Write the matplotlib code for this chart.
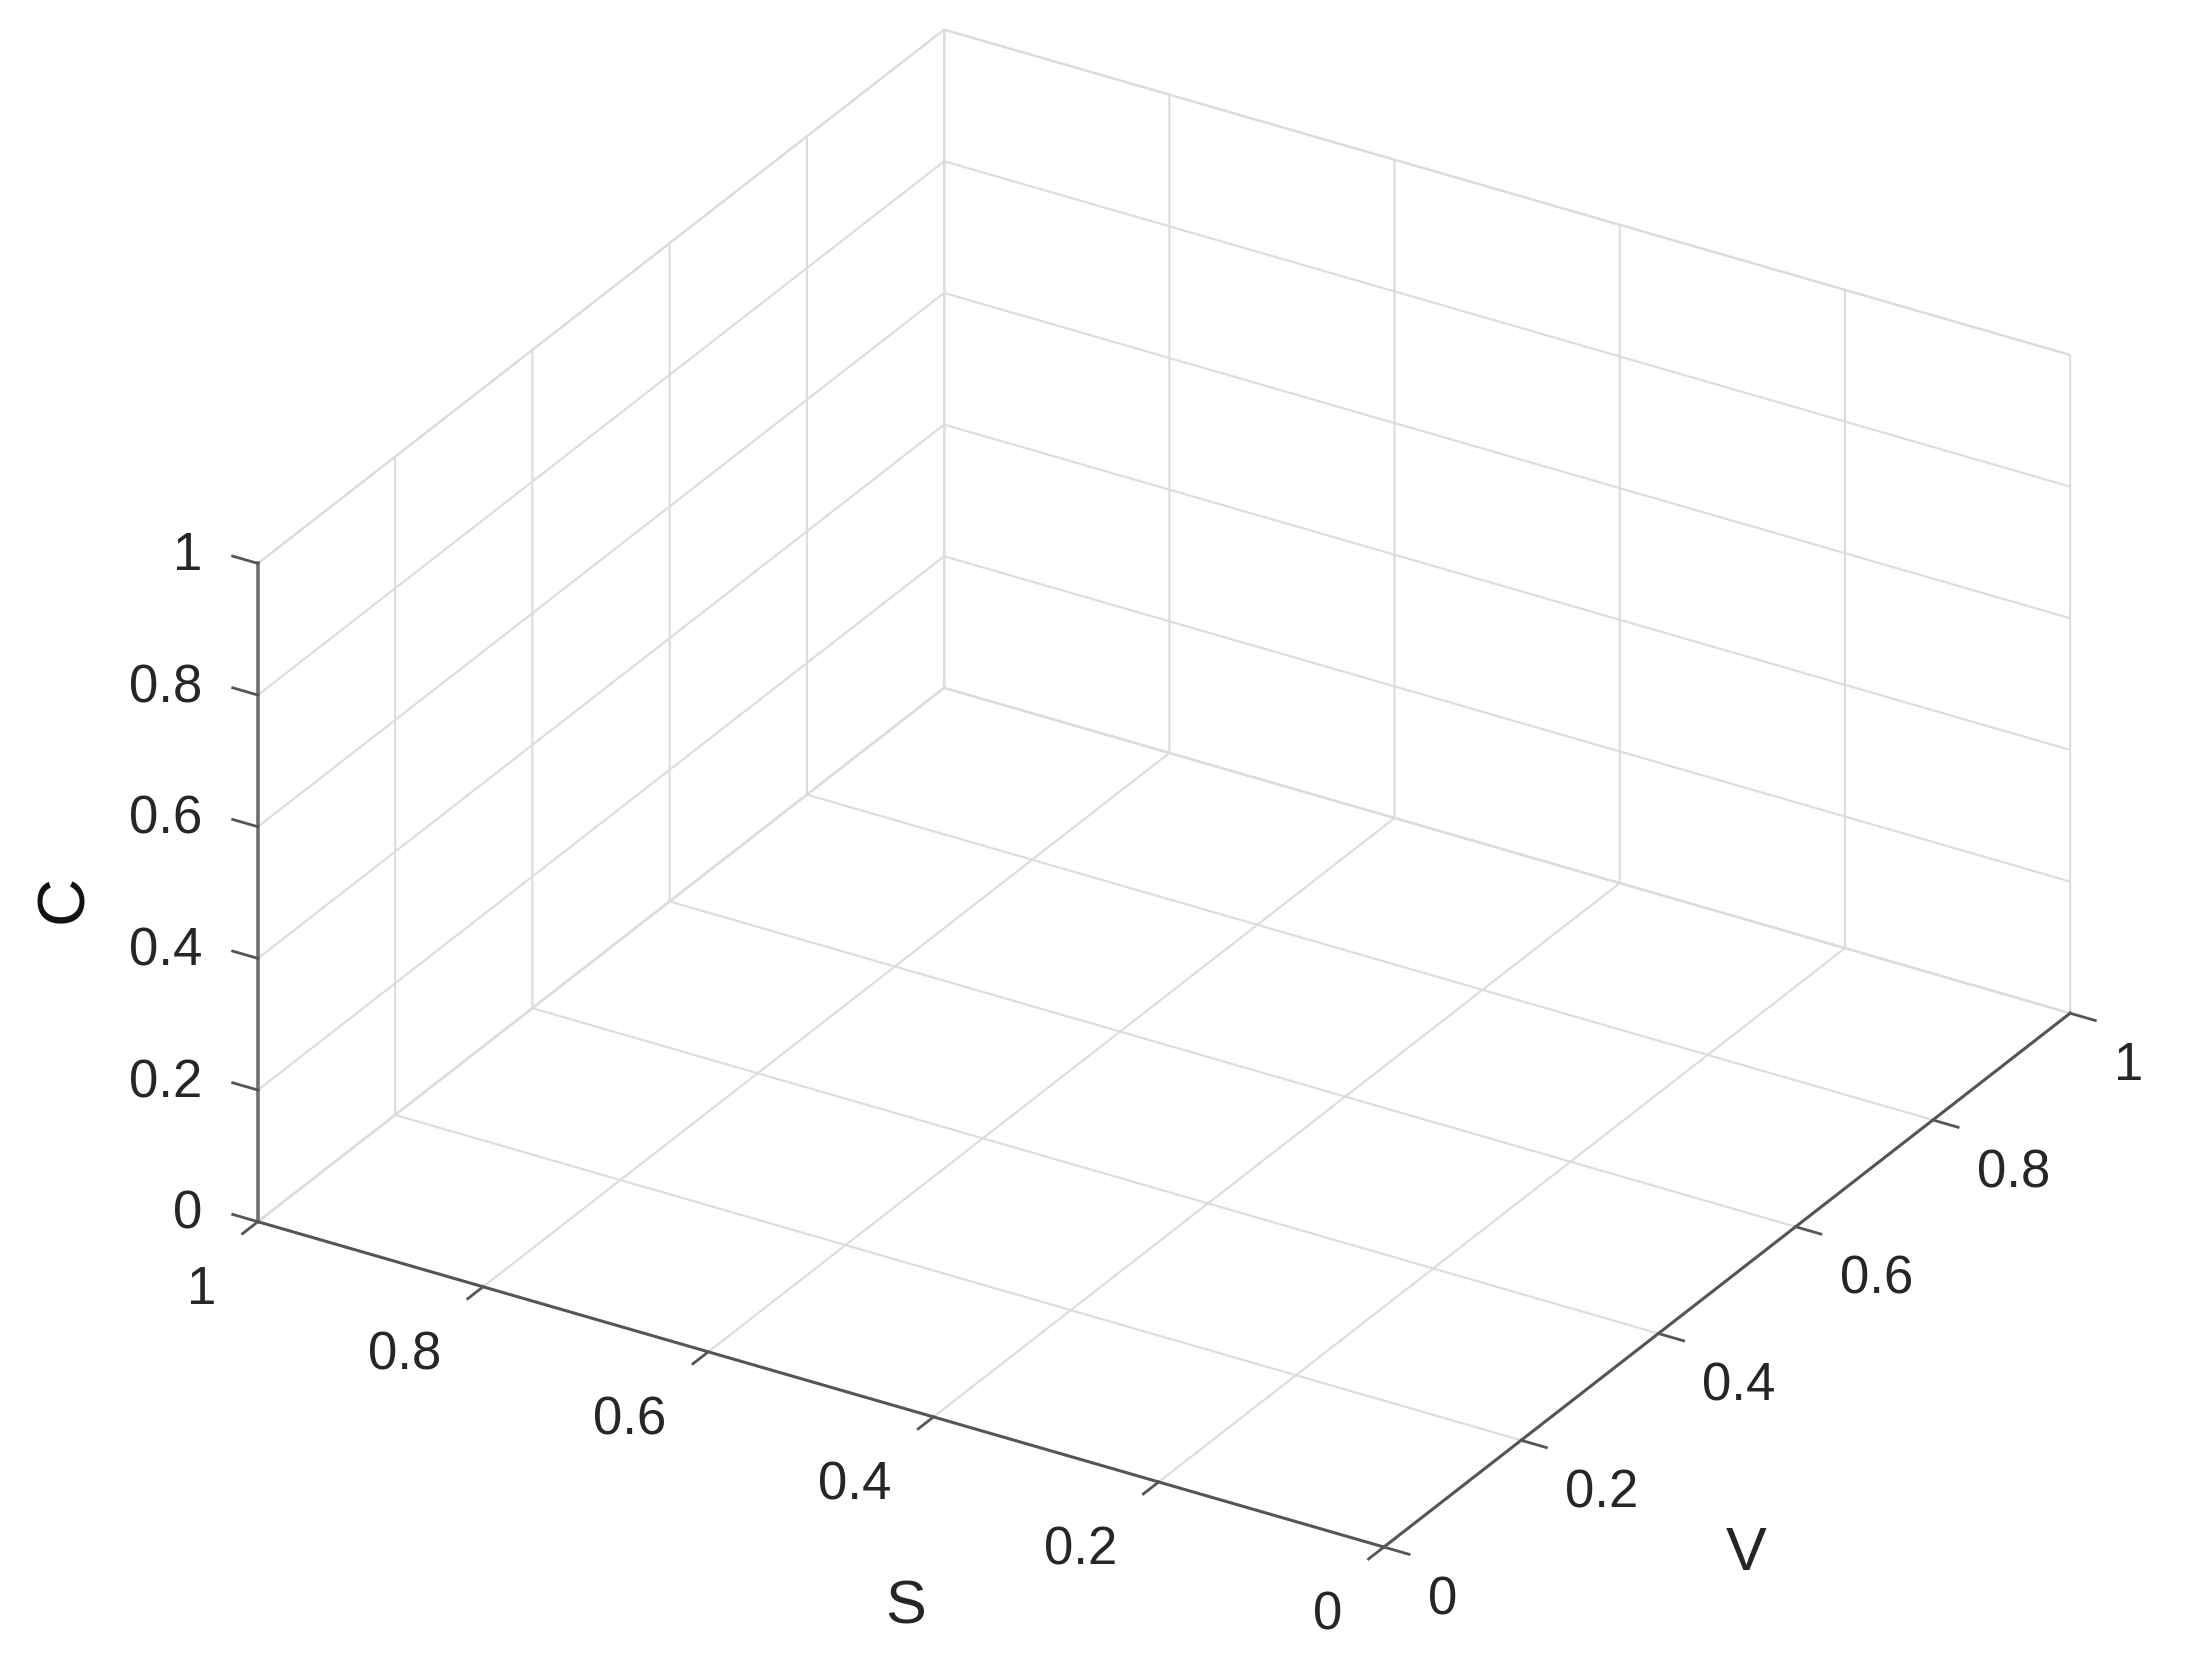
import matplotlib
matplotlib.use("Agg")
import matplotlib.pyplot as plt
import matplotlib.ticker as mticker
import numpy as np
from mpl_toolkits.mplot3d import proj3d

# ---- data (empty 3-D axes: only ticks and labels) ----
S_ticks = [0, 0.2, 0.4, 0.6, 0.8, 1]
V_ticks = [0, 0.2, 0.4, 0.6, 0.8, 1]
C_ticks = [0, 0.2, 0.4, 0.6, 0.8, 1]
S_tick_labels = ["0", "0.2", "0.4", "0.6", "0.8", "1"]
V_tick_labels = ["0", "0.2", "0.4", "0.6", "0.8", "1"]
C_tick_labels = ["0", "0.2", "0.4", "0.6", "0.8", "1"]
S_label, V_label, C_label = "S", "V", "C"

W, H, DPI = 2187, 1665, 100
TXT = "#262626"
GRID = "#DCDCDC"
AXC = "#555555"
TICK_FS = 38

plt.rcParams["font.family"] = ["Liberation Sans", "DejaVu Sans"]
plt.rcParams["grid.color"] = GRID
plt.rcParams["grid.linewidth"] = 1.5
plt.rcParams["grid.linestyle"] = "-"
for a in ("xtick", "ytick"):
    plt.rcParams[f"{a}.color"] = AXC
    plt.rcParams[f"{a}.major.width"] = 2.0

fig = plt.figure(figsize=(W / DPI, H / DPI), dpi=DPI, facecolor="white")
ax = fig.add_axes([0, 0, 1, 1], projection="3d")
ax.set_proj_type("ortho")
ax.view_init(elev=28.3, azim=-148.64)
ax.set_box_aspect((1, 1, 0.567))
for t in (ax.title, ax._left_title, ax._right_title):
    t.set_visible(False)

# x = V, y = S, z = C
ax.set_xlim(0, 1)
ax.set_ylim(0, 1)
ax.set_zlim(0, 1)
ax.set_xticks(V_ticks)
ax.set_yticks(S_ticks)
ax.set_zticks(C_ticks)

for axis in (ax.xaxis, ax.yaxis, ax.zaxis):
    axis.set_major_formatter(mticker.NullFormatter())
    axis.set_tick_params(labelbottom=False, labeltop=False)
    axis.label.set_visible(False)
    axis.offsetText.set_visible(False)
    axis.set_pane_color((1, 1, 1, 1))
    axis.pane.set_edgecolor(GRID)
    axis.pane.set_linewidth(1.5)
    axis.line.set_color(AXC)
    axis.line.set_linewidth(2.2)
    axis._axinfo["tick"]["inward_factor"] = 0.28
    axis._axinfo["tick"]["outward_factor"] = 0.0
    axis._axinfo["grid"]["color"] = GRID
    axis._axinfo["grid"]["linewidth"] = 1.5

# C ticks point along +S (MATLAB style)
ax.zaxis._get_tickdir = lambda *args, **kw: 1
ax.zaxis._axinfo["tick"]["inward_factor"] = 0.0
ax.zaxis._axinfo["tick"]["outward_factor"] = 0.28
ax.zaxis.line.set_color("#707070")
ax.zaxis.line.set_linewidth(2.6)

# ---- calibrate the axes position so the box frame lands where the reference has it ----
fig.canvas.draw()
corners = np.array([[0, 0, 0], [0, 1, 0], [1, 0, 0], [1, 1, 1], [0, 1, 1]], float)
target_img = np.array([[1385, 1548], [257, 1222], [2070, 1015], [944, 32], [258, 563]], float)
target = np.column_stack([target_img[:, 0], H - target_img[:, 1]])
xs, ys, _ = proj3d.proj_transform(corners[:, 0], corners[:, 1], corners[:, 2], ax.get_proj())
disp = ax.transData.transform(np.column_stack([xs, ys]))
n = len(disp)
A = np.zeros((2 * n, 3))
b = np.zeros(2 * n)
A[:n, 0] = disp[:, 0]; A[:n, 1] = 1; b[:n] = target[:, 0]
A[n:, 0] = disp[:, 1]; A[n:, 2] = 1; b[n:] = target[:, 1]
s, tx, ty = np.linalg.lstsq(A, b, rcond=None)[0]
pos = ax.get_position()
ox, oy, size = pos.x0 * W, pos.y0 * H, pos.width * W
nox, noy, nsize = s * ox + tx, s * oy + ty, s * size
ax.set_position([nox / W, noy / H, nsize / W, nsize / H])
fig.canvas.draw()

M = ax.get_proj()


def label3d(x, y, z, text, **kw):
    """Place a 2-D text at the projection of a 3-D data point."""
    px, py, _ = proj3d.proj_transform(np.array([x]), np.array([y]), np.array([z]), M)
    ax.text2D(px[0], py[0], text, transform=ax.transData, **kw)


# tick labels (MATLAB-style placement)
for v, lab in zip(V_ticks, V_tick_labels):
    label3d(v, -0.039, -0.06, lab, ha="left", va="center", fontsize=TICK_FS, color=TXT)
for s_, lab in zip(S_ticks, S_tick_labels):
    label3d(-0.061, s_, -0.053, lab, ha="right", va="center", fontsize=TICK_FS, color=TXT)
for c, lab in zip(C_ticks, C_tick_labels):
    label3d(0, 1.049, c - 0.012, lab, ha="right", va="center", fontsize=TICK_FS, color=TXT)

# axis labels
label3d(-0.27, 0.26, 0, S_label, ha="center", va="center", fontsize=44, color=TXT)
label3d(0.134, -0.24, 0, V_label, ha="center", va="center", fontsize=44, color=TXT)
label3d(0, 1.171, 0.408, C_label, ha="center", va="center", fontsize=48,
        color="#111111", rotation=90)

fig.savefig("out.png", dpi=DPI, facecolor="white")
